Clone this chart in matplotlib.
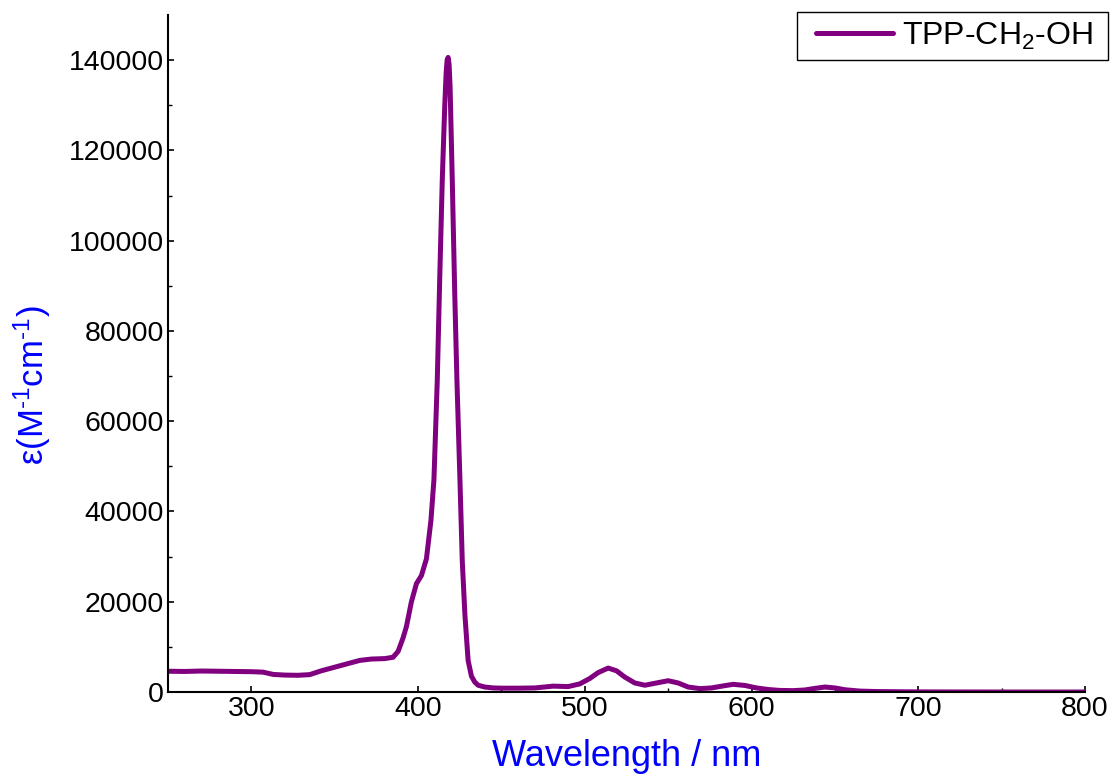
import matplotlib
matplotlib.use("Agg")
import matplotlib.pyplot as plt
from matplotlib.patches import Rectangle

plt.rcParams['font.family'] = ['Liberation Sans', 'DejaVu Sans']
plt.rcParams['mathtext.fontset'] = 'custom'
plt.rcParams['mathtext.rm'] = 'Liberation Sans'
plt.rcParams['mathtext.it'] = 'Liberation Sans'
plt.rcParams['mathtext.default'] = 'regular'

# Absorption spectrum of TPP-CH2-OH (molar absorptivity vs wavelength)
wavelength = [250, 260, 270, 280, 290, 300, 307, 313, 320, 328, 335, 342, 350,
              358, 365, 372, 380, 385, 388, 391, 393, 396, 399, 402, 405, 407.7,
              409.5, 411.5, 413, 414.5, 416, 416.8, 417.4, 418.0, 418.6, 419.2,
              420.5, 422, 423.3, 425.1, 426.5, 428.1, 430, 432, 434, 436, 440,
              445, 450, 460, 470, 481, 490, 497, 503, 508, 514, 519, 524, 530,
              536, 543, 550, 556, 562, 569, 576, 583, 589, 596, 603, 610, 617,
              625, 632, 638, 644, 650, 656, 665, 675, 690, 700, 720, 750, 800]
epsilon = [4600, 4550, 4650, 4600, 4550, 4500, 4400, 3900, 3750, 3700, 3850,
           4700, 5500, 6300, 7000, 7300, 7400, 7700, 9000, 12000, 14500, 20000,
           24000, 25800, 29500, 38000, 47000, 69000, 92000, 113400, 130000,
           137000, 140000, 140600, 139000, 134000, 113400, 88000, 69000, 47000,
           29000, 17000, 7000, 3500, 2200, 1500, 1100, 900, 850, 850, 900, 1300,
           1200, 1800, 3000, 4300, 5300, 4700, 3300, 2000, 1500, 2000, 2500,
           2000, 1100, 750, 900, 1350, 1700, 1450, 900, 550, 350, 300, 450, 800,
           1100, 900, 500, 200, 100, 50, 30, 10, 0, 0]

series_label = 'TPP-CH$_2$-OH'
x_ticks = [300, 400, 500, 600, 700, 800]
y_ticks = [0, 20000, 40000, 60000, 80000, 100000, 120000, 140000]

W, H = 1114, 778
fig = plt.figure(figsize=(W / 100, H / 100), dpi=100)
ax = fig.add_axes([168 / W, 1 - 692 / H, (1085 - 168) / W, (692 - 15) / H])

ax.plot(wavelength, epsilon, color='#800080', lw=3.6, label=series_label,
        solid_joinstyle='round', solid_capstyle='round')

ax.set_xlim(250, 800)
ax.set_ylim(0, 150000)
ax.set_xticks(x_ticks)
ax.set_xticks([450, 550, 650, 750], minor=True)
ax.set_yticks(y_ticks)
ax.set_yticks([10000, 30000, 50000, 70000, 90000, 110000, 130000], minor=True)
ax.set_yticklabels([str(v) for v in y_ticks])

for side in ('top', 'right'):
    ax.spines[side].set_visible(False)
for side in ('left', 'bottom'):
    ax.spines[side].set_linewidth(1.5)

ax.tick_params(which='major', direction='in', length=4, width=1.2,
               labelsize=20.5, pad=3)
ax.tick_params(which='minor', direction='in', length=3, width=1.0)

ax.set_xlabel('Wavelength / nm', fontsize=26, color='blue', labelpad=12)
fig.text(32 / W, 1 - 385 / H,
         r'ε(M$^{\text{-1}}$cm$^{\text{-1}}$)',
         rotation=90, ha='center', va='center', fontsize=25, color='blue')

# Legend entries without their own frame; a plain box is drawn around them
leg = ax.legend(loc='center left', bbox_to_anchor=(816 / W, 1 - 36 / H),
                bbox_transform=fig.transFigure, borderaxespad=0, borderpad=0,
                fontsize=23, handlelength=2.4, handletextpad=0.3,
                frameon=False)
fig.patches.append(Rectangle((797 / W, 1 - 60 / H), (1108 - 797) / W,
                             (60 - 12) / H, transform=fig.transFigure,
                             fill=False, edgecolor='black', linewidth=1.0,
                             figure=fig))

fig.savefig('out.png', dpi=100)
